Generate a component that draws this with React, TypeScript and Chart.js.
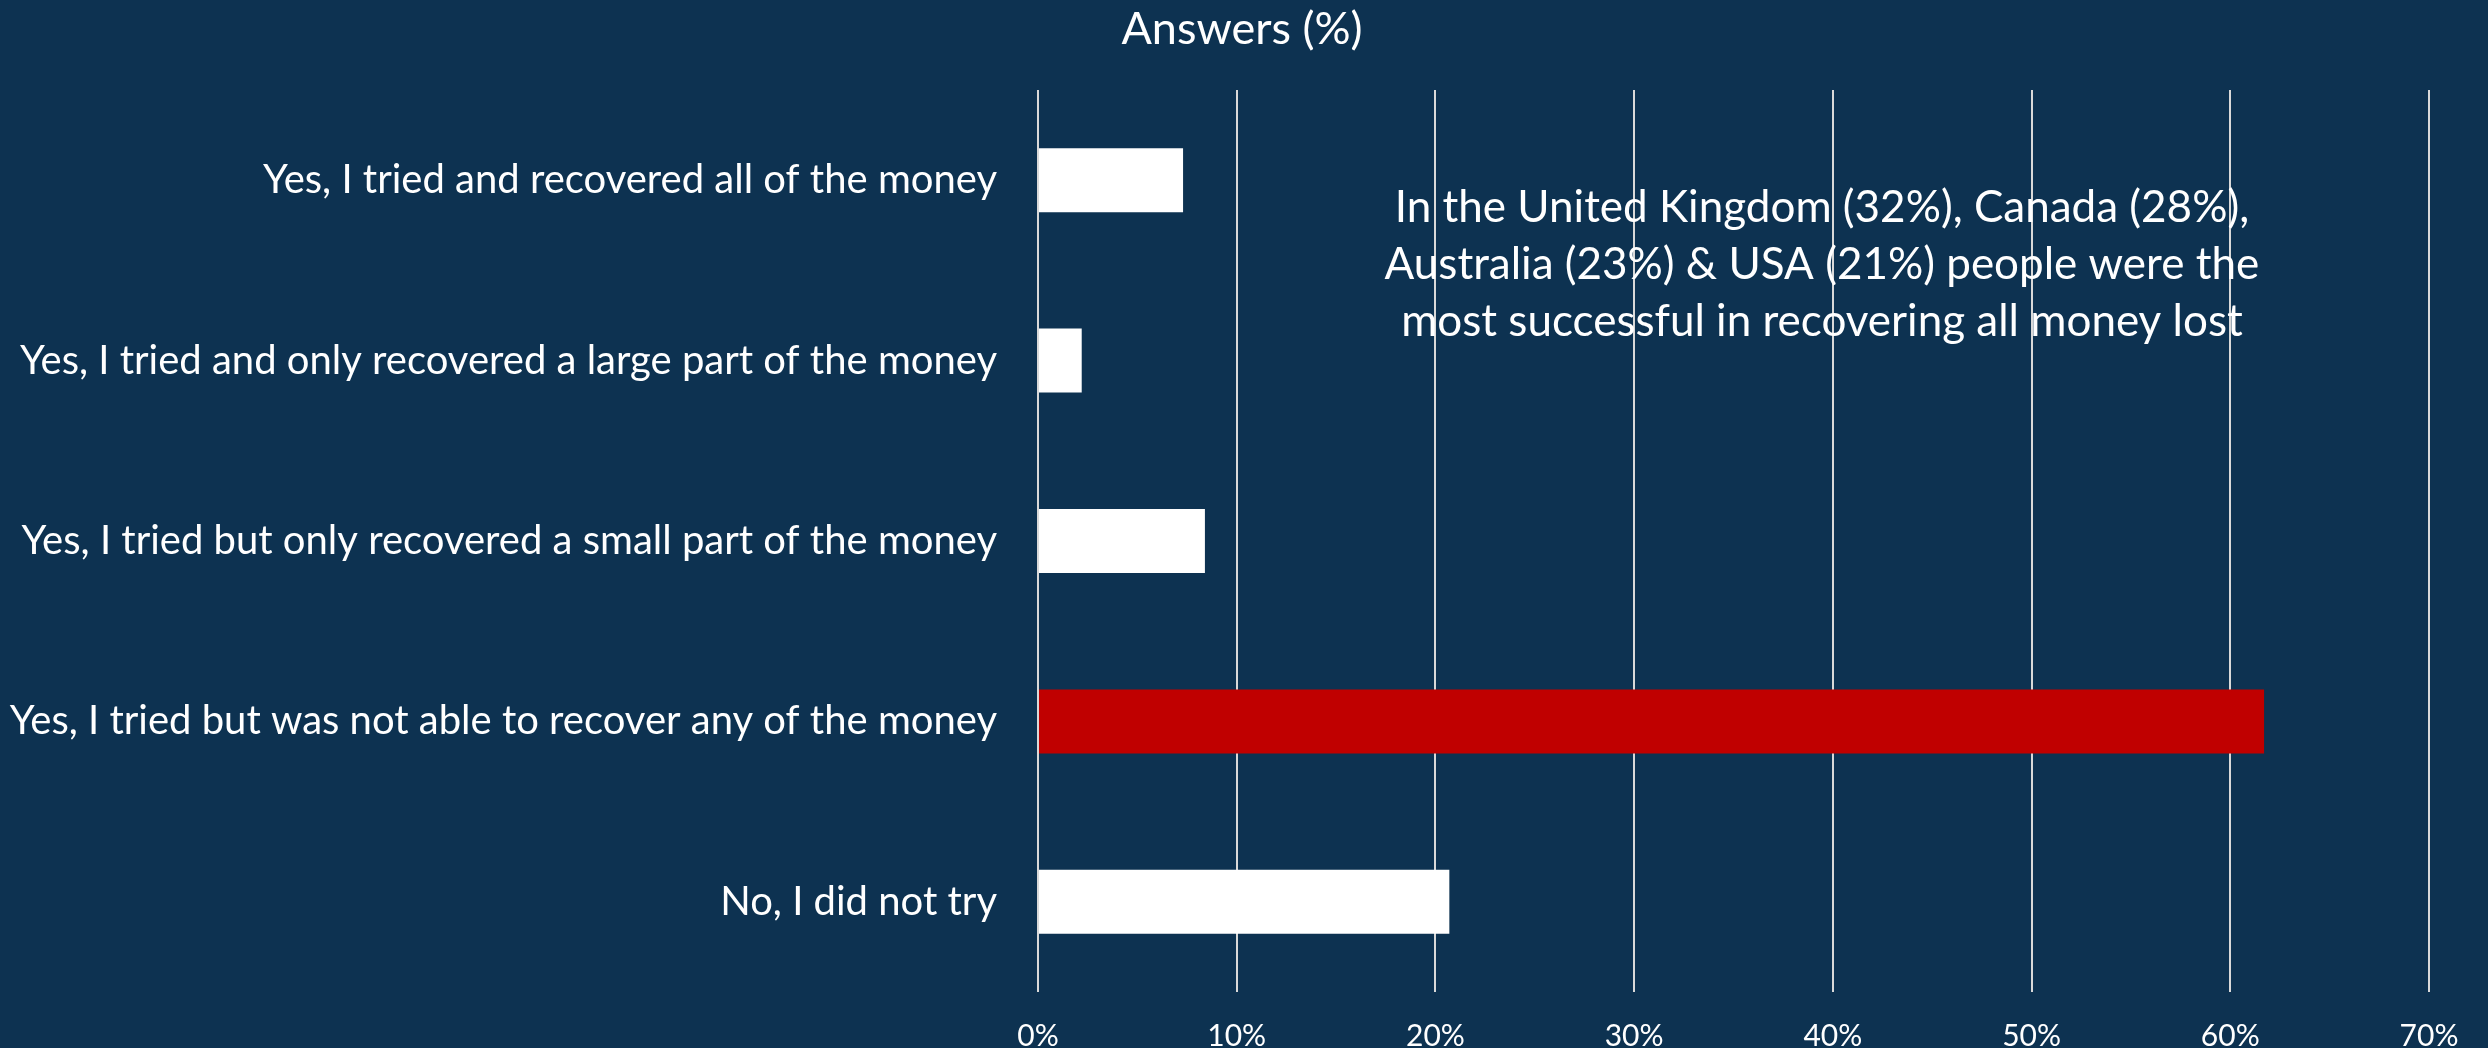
import React, { useEffect, useRef } from "react";
import { Chart, registerables } from "chart.js";

Chart.register(...registerables);

const categories = [
  "Yes, I tried and recovered all of the money",
  "Yes, I tried and only recovered a large part of the money",
  "Yes, I tried but only recovered a small part of the money",
  "Yes, I tried but was not able to recover any of the money",
  "No, I did not try",
];
const answers = [7.3, 2.2, 8.4, 61.7, 20.7];
const barColors = ["#FFFFFF", "#FFFFFF", "#FFFFFF", "#C00000", "#FFFFFF"];
const xTicks = [0, 10, 20, 30, 40, 50, 60, 70];
const titleText = "Answers (%)";
const noteLines = [
  "In the United Kingdom (32%), Canada (28%),",
  "Australia (23%) & USA (21%) people were the",
  "most successful in recovering all money lost",
];
const noteCenterValue = 39.45;

const FONT = "Lato";
const BG = "#0D3251";

// Title centred over the whole picture, and the text note inside the plot.
const textPlugin = {
  id: "texts",
  afterDraw(chart: any) {
    const { ctx } = chart;
    const x = chart.scales.x;
    const y = chart.scales.y;
    ctx.save();
    ctx.fillStyle = "#FFFFFF";
    ctx.textAlign = "center";
    ctx.textBaseline = "middle";

    ctx.font = `45px ${FONT}`;
    ctx.fillText(titleText, chart.width / 2 - 2, 29);

    const cx = x.getPixelForValue(noteCenterValue);
    const cy = (y.getPixelForValue(0) + y.getPixelForValue(1)) / 2 - 6;
    ctx.font = `44px ${FONT}`;
    noteLines.forEach((line, i) => {
      ctx.fillText(line, cx, cy + (i - 1) * 57);
    });
    ctx.restore();
  },
};

export default function App() {
  const canvasRef = useRef<HTMLCanvasElement | null>(null);

  useEffect(() => {
    const canvas = canvasRef.current;
    if (!canvas) return;
    const chart = new Chart(canvas, {
      type: "bar",
      data: {
        labels: categories,
        datasets: [
          {
            data: answers,
            backgroundColor: barColors,
            borderWidth: 0,
            barPercentage: 1,
            categoryPercentage: 0.355,
          },
        ],
      },
      options: {
        indexAxis: "y",
        responsive: false,
        animation: false,
        devicePixelRatio: 1,
        layout: { padding: { left: 0, right: 59, top: 90, bottom: 0 } },
        plugins: {
          legend: { display: false },
          tooltip: { enabled: false },
          title: { display: false },
        },
        scales: {
          x: {
            min: 0,
            max: 70,
            position: "bottom",
            afterBuildTicks: (s: any) => {
              s.ticks = xTicks.map((v) => ({ value: v }));
            },
            ticks: {
              color: "#FFFFFF",
              font: { family: FONT, size: 30 },
              padding: 26,
              maxRotation: 0,
              callback: (v: any) => `${v}%`,
            },
            grid: { color: "#D9D9D9", lineWidth: 2, drawTicks: false },
            border: { display: false },
          },
          y: {
            afterFit: (s: any) => {
              s.width = 1038;
            },
            ticks: {
              color: "#FFFFFF",
              font: { family: FONT, size: 40 },
              padding: 41,
            },
            grid: { display: false, drawTicks: false },
            border: { display: false },
          },
        },
      },
      plugins: [textPlugin],
    });
    return () => chart.destroy();
  }, []);

  return (
    <div
      style={{
        position: "fixed",
        left: 0,
        top: 0,
        width: 2488,
        height: 1048,
        overflow: "hidden",
        background: BG,
      }}
    >
      <canvas
        ref={canvasRef}
        width={2488}
        height={1080}
        style={{ display: "block", width: 2488, height: 1080 }}
      />
    </div>
  );
}
